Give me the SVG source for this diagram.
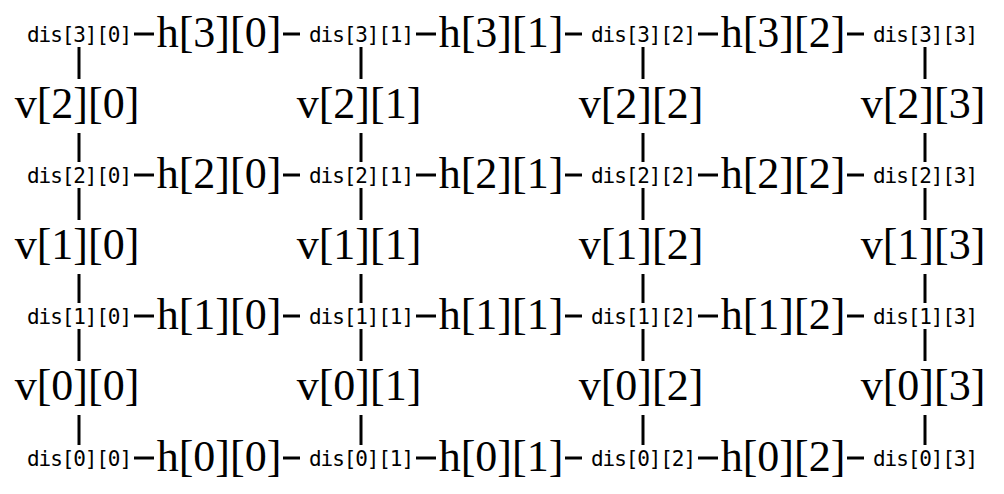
<svg xmlns="http://www.w3.org/2000/svg" width="1004" height="494" viewBox="0 0 1004 494">
<style>
.d{font-family:"DejaVu Sans Mono","Liberation Mono",monospace;font-size:21px;letter-spacing:-1.1px;fill:#000;text-anchor:middle}
.s{font-family:"Liberation Serif","Times New Roman",serif;font-size:44px;fill:#000;text-anchor:middle}
.c line{stroke:#000;stroke-width:3}
</style>
<rect width="1004" height="494" fill="#fff"/>
<g class="c" id="connectors">
<line x1="134" y1="34" x2="154" y2="34"/><line x1="283" y1="34" x2="300" y2="34"/>
<line x1="416" y1="34" x2="436" y2="34"/><line x1="565" y1="34" x2="582" y2="34"/>
<line x1="698" y1="34" x2="718" y2="34"/><line x1="847" y1="34" x2="864" y2="34"/>
<line x1="134" y1="175" x2="154" y2="175"/><line x1="283" y1="175" x2="300" y2="175"/>
<line x1="416" y1="175" x2="436" y2="175"/><line x1="565" y1="175" x2="582" y2="175"/>
<line x1="698" y1="175" x2="718" y2="175"/><line x1="847" y1="175" x2="864" y2="175"/>
<line x1="134" y1="316" x2="154" y2="316"/><line x1="283" y1="316" x2="300" y2="316"/>
<line x1="416" y1="316" x2="436" y2="316"/><line x1="565" y1="316" x2="582" y2="316"/>
<line x1="698" y1="316" x2="718" y2="316"/><line x1="847" y1="316" x2="864" y2="316"/>
<line x1="134" y1="458" x2="154" y2="458"/><line x1="283" y1="458" x2="300" y2="458"/>
<line x1="416" y1="458" x2="436" y2="458"/><line x1="565" y1="458" x2="582" y2="458"/>
<line x1="698" y1="458" x2="718" y2="458"/><line x1="847" y1="458" x2="864" y2="458"/>
<line x1="79" y1="47" x2="79" y2="79"/><line x1="361" y1="47" x2="361" y2="79"/><line x1="643" y1="47" x2="643" y2="79"/><line x1="925" y1="47" x2="925" y2="79"/>
<line x1="79" y1="133" x2="79" y2="162"/><line x1="361" y1="133" x2="361" y2="162"/><line x1="643" y1="133" x2="643" y2="162"/><line x1="925" y1="133" x2="925" y2="162"/>
<line x1="79" y1="188" x2="79" y2="220"/><line x1="361" y1="188" x2="361" y2="220"/><line x1="643" y1="188" x2="643" y2="220"/><line x1="925" y1="188" x2="925" y2="220"/>
<line x1="79" y1="274" x2="79" y2="303"/><line x1="361" y1="274" x2="361" y2="303"/><line x1="643" y1="274" x2="643" y2="303"/><line x1="925" y1="274" x2="925" y2="303"/>
<line x1="79" y1="329" x2="79" y2="361"/><line x1="361" y1="329" x2="361" y2="361"/><line x1="643" y1="329" x2="643" y2="361"/><line x1="925" y1="329" x2="925" y2="361"/>
<line x1="79" y1="415" x2="79" y2="445"/><line x1="361" y1="415" x2="361" y2="445"/><line x1="643" y1="415" x2="643" y2="445"/><line x1="925" y1="415" x2="925" y2="445"/>
</g>
<g id="dis30"><text class="d" x="79" y="42">dis[3][0]</text></g>
<g id="dis31"><text class="d" x="361" y="42">dis[3][1]</text></g>
<g id="dis32"><text class="d" x="643" y="42">dis[3][2]</text></g>
<g id="dis33"><text class="d" x="925" y="42">dis[3][3]</text></g>
<g id="dis20"><text class="d" x="79" y="183">dis[2][0]</text></g>
<g id="dis21"><text class="d" x="361" y="183">dis[2][1]</text></g>
<g id="dis22"><text class="d" x="643" y="183">dis[2][2]</text></g>
<g id="dis23"><text class="d" x="925" y="183">dis[2][3]</text></g>
<g id="dis10"><text class="d" x="79" y="324">dis[1][0]</text></g>
<g id="dis11"><text class="d" x="361" y="324">dis[1][1]</text></g>
<g id="dis12"><text class="d" x="643" y="324">dis[1][2]</text></g>
<g id="dis13"><text class="d" x="925" y="324">dis[1][3]</text></g>
<g id="dis00"><text class="d" x="79" y="466">dis[0][0]</text></g>
<g id="dis01"><text class="d" x="361" y="466">dis[0][1]</text></g>
<g id="dis02"><text class="d" x="643" y="466">dis[0][2]</text></g>
<g id="dis03"><text class="d" x="925" y="466">dis[0][3]</text></g>
<g id="h30"><text class="s" x="219" y="47">h[3][0]</text></g>
<g id="h31"><text class="s" x="501" y="47">h[3][1]</text></g>
<g id="h32"><text class="s" x="783" y="47">h[3][2]</text></g>
<g id="h20"><text class="s" x="219" y="188">h[2][0]</text></g>
<g id="h21"><text class="s" x="501" y="188">h[2][1]</text></g>
<g id="h22"><text class="s" x="783" y="188">h[2][2]</text></g>
<g id="h10"><text class="s" x="219" y="329">h[1][0]</text></g>
<g id="h11"><text class="s" x="501" y="329">h[1][1]</text></g>
<g id="h12"><text class="s" x="783" y="329">h[1][2]</text></g>
<g id="h00"><text class="s" x="219" y="471">h[0][0]</text></g>
<g id="h01"><text class="s" x="501" y="471">h[0][1]</text></g>
<g id="h02"><text class="s" x="783" y="471">h[0][2]</text></g>
<g id="v20"><text class="s" x="77" y="118">v[2][0]</text></g>
<g id="v21"><text class="s" x="359" y="118">v[2][1]</text></g>
<g id="v22"><text class="s" x="641" y="118">v[2][2]</text></g>
<g id="v23"><text class="s" x="923" y="118">v[2][3]</text></g>
<g id="v10"><text class="s" x="77" y="259">v[1][0]</text></g>
<g id="v11"><text class="s" x="359" y="259">v[1][1]</text></g>
<g id="v12"><text class="s" x="641" y="259">v[1][2]</text></g>
<g id="v13"><text class="s" x="923" y="259">v[1][3]</text></g>
<g id="v00"><text class="s" x="77" y="400">v[0][0]</text></g>
<g id="v01"><text class="s" x="359" y="400">v[0][1]</text></g>
<g id="v02"><text class="s" x="641" y="400">v[0][2]</text></g>
<g id="v03"><text class="s" x="923" y="400">v[0][3]</text></g>
</svg>
